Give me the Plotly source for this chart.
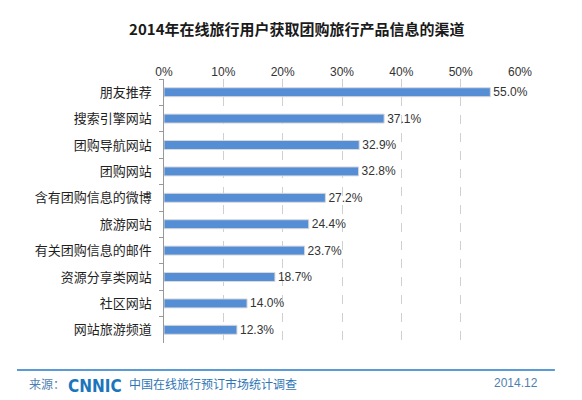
import plotly.graph_objects as go

# channels through which online travel users got group-buy travel info (2014)
channels = ['朋友推荐', '搜索引擎网站', '团购导航网站', '团购网站', '含有团购信息的微博',
            '旅游网站', '有关团购信息的邮件', '资源分享类网站', '社区网站', '网站旅游频道']
shares = [0.550, 0.371, 0.329, 0.328, 0.272, 0.244, 0.237, 0.187, 0.140, 0.123]
x_ticks = [0, 0.1, 0.2, 0.3, 0.4, 0.5, 0.6]

bar_color = '#558ED5'
cjk = 'Noto Sans CJK SC'
latin = 'Liberation Sans'

fig = go.Figure()
fig.add_trace(go.Bar(
    x=shares,
    y=channels,
    orientation='h',
    marker=dict(color=bar_color, line=dict(color='#d9d9d9', width=1)),
    text=[f'{v*100:.1f}%' for v in shares],
    textposition='outside',
    constraintext='none',
    textfont=dict(family=latin, size=12, color='#333333'),
    cliponaxis=False,
    width=0.34,
))

fig.update_layout(
    width=582, height=400,
    margin=dict(l=164, r=62, t=79, b=57),
    paper_bgcolor='white',
    plot_bgcolor='white',
    showlegend=False,
    title=dict(
        text='<b>2014年在线旅行用户获取团购旅行产品信息的渠道</b>',
        x=0.51, xanchor='center', y=0.925, yanchor='middle',
        font=dict(family=cjk, size=15, color='#1a1a1a'),
    ),
    xaxis=dict(
        side='top',
        range=[0, 0.6],
        tickvals=x_ticks,
        tickformat='.0%',
        tickfont=dict(family=latin, size=12, color='#333333'),
        showgrid=True,
        gridcolor='#d0d0d0',
        griddash='dash',
        gridwidth=1,
        zeroline=False,
        showline=False,
        ticks='',
        fixedrange=True,
    ),
    yaxis=dict(
        autorange='reversed',
        tickfont=dict(family=cjk, size=13, color='#1f1f1f'),
        showline=True,
        linecolor='#999999',
        linewidth=1,
        ticks='outside',
        tickson='boundaries',
        ticklen=4,
        tickcolor='#999999',
        showgrid=False,
        ticksuffix='   ',
    ),
)

# footer: source line
fig.add_shape(type='line', xref='paper', yref='paper',
              x0=-0.413, x1=1.098, y0=-0.102, y1=-0.102,
              line=dict(color='#5b9bd5', width=2))
fig.add_annotation(text='来源：', xref='paper', yref='paper',
                   x=-0.385, y=-0.152, xanchor='left', yanchor='middle',
                   showarrow=False, font=dict(family=cjk, size=12, color='#4f7fb0'))
fig.add_annotation(text='<b>CNNIC</b>', xref='paper', yref='paper',
                   x=-0.274, y=-0.162, xanchor='left', yanchor='middle',
                   showarrow=False, font=dict(family='DejaVu Sans Condensed', size=17, color='#1b75bc'))
fig.add_annotation(text='中国在线旅行预订市场统计调查', xref='paper', yref='paper',
                   x=-0.105, y=-0.152, xanchor='left', yanchor='middle',
                   showarrow=False, font=dict(family=cjk, size=12, color='#2e75b6'))
fig.add_annotation(text='2014.12', xref='paper', yref='paper',
                   x=1.056, y=-0.152, xanchor='right', yanchor='middle',
                   showarrow=False, font=dict(family=latin, size=12, color='#4f7fb0'))

# drop the browser's default body margin so the figure fills the window
fig.write_html('out.html', config={'displayModeBar': False},
               post_script="document.body.style.margin='0';")
